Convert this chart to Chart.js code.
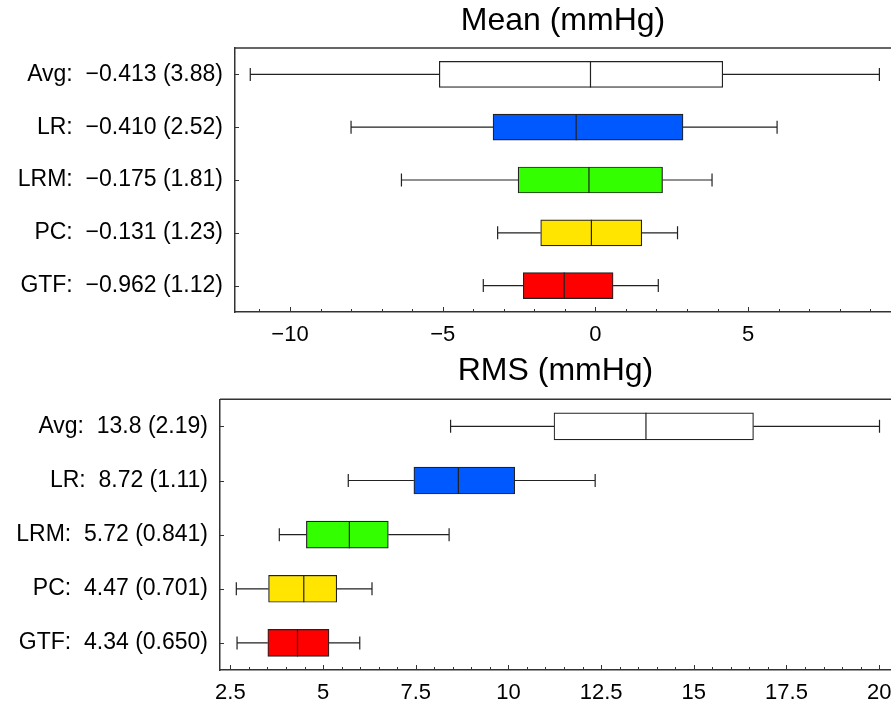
<!DOCTYPE html>
<html>
<head>
<meta charset="utf-8">
<script src="https://cdn.jsdelivr.net/npm/chart.js"></script>
<style>
  html, body { margin: 0; padding: 0; background: #fff; }
  canvas { display: block; }
</style>
</head>
<body>
<canvas id="chart-mean" width="891" height="350"></canvas>
<canvas id="chart-rms" width="891" height="358"></canvas>
<script>
const methods = ['Avg', 'LR', 'LRM', 'PC', 'GTF'];
const boxColors = ['#ffffff', '#0059ff', '#33ff00', '#ffe500', '#ff0000'];

// summary printed next to each method: value (spread)
const meanValue = [-0.413, -0.410, -0.175, -0.131, -0.962];
const meanSpread = [3.88, 2.52, 1.81, 1.23, 1.12];
const rmsValue = [13.8, 8.72, 5.72, 4.47, 4.34];
const rmsSpread = [2.19, 1.11, 0.841, 0.701, 0.650];

// box plot statistics, mean error
const meanLow = [-11.3, -8.0, -6.35, -3.2, -3.67];
const meanQ1 = [-5.11, -3.35, -2.53, -1.79, -2.36];
const meanMedian = [-0.16, -0.63, -0.21, -0.13, -1.02];
const meanQ3 = [4.17, 2.87, 2.2, 1.52, 0.58];
const meanHigh = [9.3, 5.95, 3.82, 2.69, 2.06];

// box plot statistics, rms error
const rmsLow = [8.44, 5.68, 3.82, 2.66, 2.68];
const rmsQ1 = [11.23, 7.45, 4.55, 3.53, 3.51];
const rmsMedian = [13.71, 8.65, 5.71, 4.48, 4.31];
const rmsQ3 = [16.61, 10.17, 6.76, 5.37, 5.16];
const rmsHigh = [20.01, 12.34, 8.40, 6.32, 5.99];

Chart.defaults.font.family = '"Liberation Sans", Arial, sans-serif';
Chart.defaults.color = '#000';

const fmt = v => v.toPrecision(3).replace('-', '\u2212');

// whiskers, caps and median line on top of the floating bars
const whiskerPlugin = {
    id: 'whiskers',
    afterDatasetsDraw(chart, args, opts) {
        const {ctx, scales: {x, y}} = chart;
        const meta = chart.getDatasetMeta(0);
        ctx.save();
        ctx.strokeStyle = '#222';
        ctx.lineWidth = 1.2;
        ctx.beginPath();
        opts.low.forEach((lo, i) => {
            const cy = y.getPixelForValue(i);
            const half = meta.data[i].height / 2;
            const pLo = x.getPixelForValue(lo);
            const pQ1 = x.getPixelForValue(opts.q1[i]);
            const pQ3 = x.getPixelForValue(opts.q3[i]);
            const pHi = x.getPixelForValue(opts.high[i]);
            const pMed = x.getPixelForValue(opts.median[i]);
            ctx.moveTo(pLo, cy); ctx.lineTo(pQ1, cy);
            ctx.moveTo(pQ3, cy); ctx.lineTo(pHi, cy);
            ctx.moveTo(pLo, cy - 6.5); ctx.lineTo(pLo, cy + 6.5);
            ctx.moveTo(pHi, cy - 6.5); ctx.lineTo(pHi, cy + 6.5);
            ctx.moveTo(pMed, cy - half); ctx.lineTo(pMed, cy + half);
        });
        ctx.stroke();
        ctx.restore();
    }
};

// top frame line and inward tick marks
const framePlugin = {
    id: 'frame',
    afterDraw(chart, args, opts) {
        const {ctx, chartArea: a, scales: {x, y}} = chart;
        ctx.save();
        ctx.strokeStyle = '#333';
        ctx.lineWidth = 1.5;
        ctx.beginPath();
        ctx.moveTo(a.left, a.top);
        ctx.lineTo(a.right, a.top);
        ctx.stroke();
        ctx.lineWidth = 1;
        ctx.beginPath();
        const kFirst = Math.ceil(x.min / opts.minorStep);
        const kLast = Math.floor(x.max / opts.minorStep);
        for (let k = kFirst; k <= kLast; k++) {
            const v = k * opts.minorStep;
            const r = v / opts.majorStep;
            const len = Math.abs(r - Math.round(r)) < 1e-6 ? 5 : 3;
            const px = Math.round(x.getPixelForValue(v)) + 0.5;
            ctx.moveTo(px, a.bottom);
            ctx.lineTo(px, a.bottom - len);
        }
        y.ticks.forEach((t, i) => {
            const py = Math.round(y.getPixelForTick(i)) + 0.5;
            ctx.moveTo(a.left, py);
            ctx.lineTo(a.left + 4, py);
        });
        ctx.stroke();
        ctx.restore();
    }
};

function crearGrafico(id, cfg) {
    const labels = methods.map((m, i) => `${m}:  ${fmt(cfg.value[i])} (${fmt(cfg.spread[i])})`);
    return new Chart(document.getElementById(id), {
        type: 'bar',
        data: {
            labels: labels,
            datasets: [{
                data: methods.map((m, i) => [cfg.q1[i], cfg.q3[i]]),
                backgroundColor: boxColors,
                borderColor: '#222',
                borderWidth: 1.2,
                borderSkipped: false,
                barThickness: cfg.barThickness
            }]
        },
        plugins: [whiskerPlugin, framePlugin],
        options: {
            indexAxis: 'y',
            responsive: false,
            animation: false,
            layout: { padding: 0 },
            scales: {
                x: {
                    min: cfg.min,
                    max: cfg.max,
                    grid: { display: false, drawTicks: false },
                    border: { display: true, color: '#333', width: 1.5 },
                    ticks: {
                        stepSize: cfg.step,
                        includeBounds: false,
                        padding: 10,
                        font: { size: 22 },
                        color: '#000',
                        callback: v => String(v).replace('-', '\u2212')
                    },
                    // plot runs right up to the canvas edge
                    afterFit: s => { s.height = 38; s.paddingLeft = 0; s.paddingRight = 0; }
                },
                y: {
                    grid: { display: false, drawTicks: false },
                    border: { display: true, color: '#333', width: 1.5 },
                    ticks: { padding: 12, font: { size: 23 }, color: '#000' },
                    afterFit: s => { s.width = cfg.axisWidth; }
                }
            },
            plugins: {
                legend: { display: false },
                tooltip: { enabled: false },
                title: {
                    display: true,
                    text: cfg.title,
                    fullSize: false,
                    color: '#000',
                    font: { size: 32, weight: 'normal' },
                    padding: cfg.titlePadding
                },
                whiskers: { low: cfg.low, q1: cfg.q1, median: cfg.median, q3: cfg.q3, high: cfg.high },
                frame: { minorStep: cfg.minorStep, majorStep: cfg.step }
            }
        }
    });
}

crearGrafico('chart-mean', {
    title: 'Mean (mmHg)',
    value: meanValue, spread: meanSpread,
    low: meanLow, q1: meanQ1, median: meanMedian, q3: meanQ3, high: meanHigh,
    min: -11.8, max: 9.68, step: 5, minorStep: 1,
    axisWidth: 235, barThickness: 26,
    titlePadding: { top: 1.8, bottom: 7.8 }
});

crearGrafico('chart-rms', {
    title: 'RMS (mmHg)',
    value: rmsValue, spread: rmsSpread,
    low: rmsLow, q1: rmsQ1, median: rmsMedian, q3: rmsQ3, high: rmsHigh,
    min: 2.22, max: 20.32, step: 2.5, minorStep: 0.5,
    axisWidth: 220, barThickness: 27,
    titlePadding: { top: 2.3, bottom: 8.6 }
});
</script>
</body>
</html>
